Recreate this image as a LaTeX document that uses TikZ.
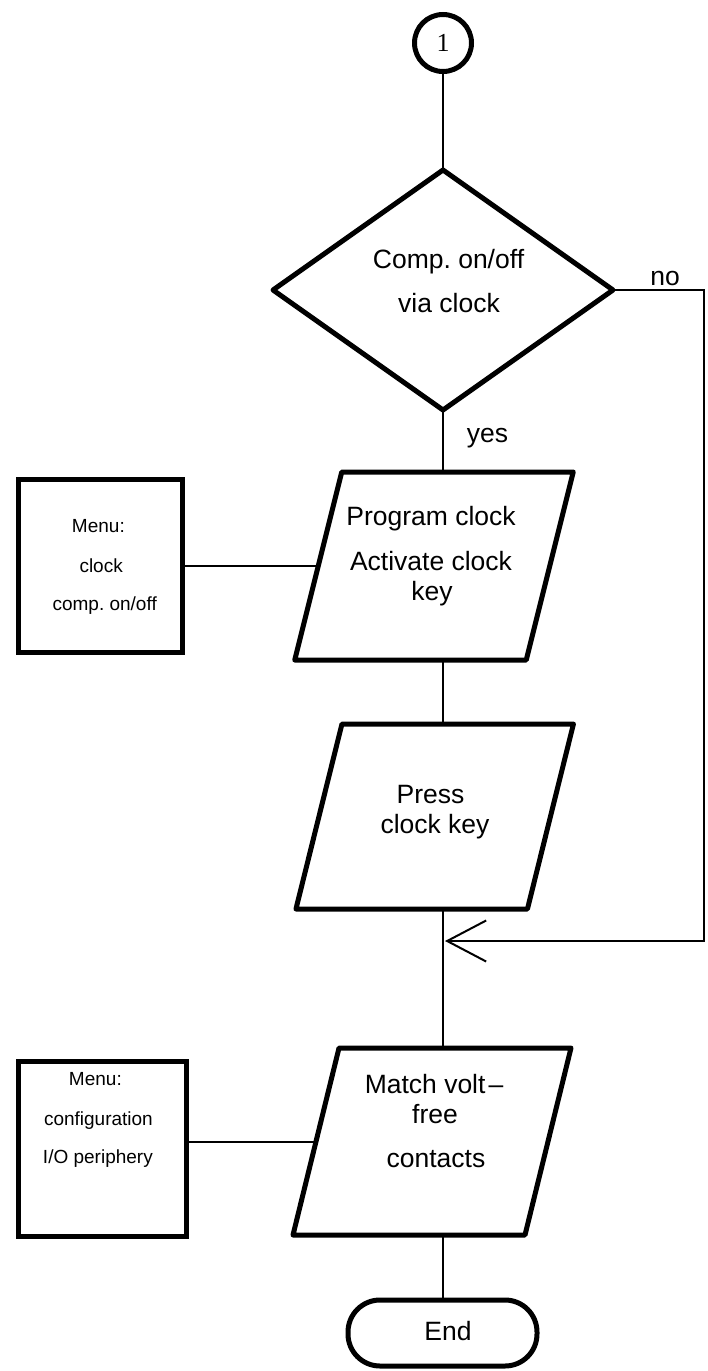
\documentclass[tikz,border=0pt]{standalone}
\usepackage{fontspec}
\setmainfont{Liberation Sans}
\newfontfamily\numfont{Liberation Serif}
\usetikzlibrary{arrows.meta}
\frenchspacing
\begin{document}
\begin{tikzpicture}[x=1pt,y=-1pt,
  outline/.style={line width=5pt, line join=round},
  conn/.style={line width=2pt},
  frame/.style={inner sep=0pt, outer sep=0pt},
  lbl/.style={font=\fontsize{26.5}{30}\selectfont, anchor=base, inner sep=0pt},
  menutxt/.style={font=\fontsize{19}{22}\selectfont, anchor=base east, inner sep=0pt},
  menubox/.style={draw, line width=5pt, inner sep=0pt, outer sep=0pt}
]
\useasboundingbox[fill=white] (0,0) rectangle (707,1371);

% connector column
\coordinate (col) at (443,0);

% start connector
\node[draw, circle, line width=5pt, minimum size=57pt, inner sep=0pt, outer sep=0pt,
      font=\numfont\fontsize{26}{26}\selectfont] (start) at (443,43) {1};

% decision
\node[frame, minimum width=340pt, minimum height=240pt] (dec) at (443,290) {};
\draw[outline] (dec.north) -- (dec.east) -- (dec.south) -- (dec.west) -- cycle;
\node[lbl] (dt1) at (448.5,268) {Comp. on/off};
\node[lbl] (dt2) at (449,312) {via clock};
\node[lbl] (no) at (665,285) {no};
\node[lbl] (yes) at (487.5,442) {yes};

% parallelogram 1
\node[frame, minimum width=231.5pt, minimum height=188pt] (p1) at (434,566) {};
\draw[outline] ([xshift=23.5pt]p1.north west) -- ([xshift=23.5pt]p1.north east)
  -- ([xshift=-23.5pt]p1.south east) -- ([xshift=-23.5pt]p1.south west) -- cycle;
\node[lbl] (p1t1) at (431,525) {Program clock};
\node[lbl] (p1t2) at (431,570) {Activate clock};
\node[lbl] (p1t3) at (432,600) {key};

% menu box 1
\node[menubox, minimum width=164pt, minimum height=173pt] (m1) at (100,566) {};
\node[menutxt] (m1t1) at (125,532) {Menu:};
\node[menutxt] (m1t2) at (123,572) {clock};
\node[menutxt] (m1t3) at (157,610) {comp. on/off};

% parallelogram 3
\node[frame, minimum width=231.5pt, minimum height=185pt] (p3) at (434.7,816.5) {};
\draw[outline] ([xshift=23pt]p3.north west) -- ([xshift=23pt]p3.north east)
  -- ([xshift=-23pt]p3.south east) -- ([xshift=-23pt]p3.south west) -- cycle;
\node[lbl] (p3t1) at (430.5,803) {Press};
\node[lbl] (p3t2) at (435,833) {clock key};

% parallelogram 4
\node[frame, minimum width=232pt, minimum height=187pt] (p4) at (432,1141.5) {};
\draw[outline] ([xshift=23pt]p4.north west) -- ([xshift=23pt]p4.north east)
  -- ([xshift=-23pt]p4.south east) -- ([xshift=-23pt]p4.south west) -- cycle;
\node[lbl] (p4t1) at (434,1093) {Match volt\kern3pt–};
\node[lbl] (p4t2) at (435,1123) {free};
\node[lbl] (p4t3) at (436,1167) {contacts};

% menu box 2
\node[menubox, minimum width=168pt, minimum height=174.5pt] (m2) at (102,1149) {};
\node[menutxt] (m2t1) at (122,1085) {Menu:};
\node[menutxt] (m2t2) at (153,1125) {configuration};
\node[menutxt] (m2t3) at (153,1163) {I/O periphery};

% end terminal
\node[draw, line width=5pt, rounded corners=32pt, minimum width=189pt, minimum height=66pt,
      inner sep=0pt, outer sep=0pt] (endn) at (442.5,1333) {};
\node[lbl] (endt) at (448,1340) {End};

% connectors
\coordinate (nocorner) at (704,290);
\coordinate (merge) at (445,941);
\draw[conn] (start.south) -- (dec.north);
\draw[conn] (dec.south) -- (col |- p1.north);
\draw[conn] (col |- p1.south) -- (col |- p3.north);
\draw[conn] (col |- p3.south) -- (col |- p4.north);
\draw[conn] (col |- p4.south) -- (col |- endn.north);
\draw[conn] (m1.east) -- (p1.west);
\draw[conn] (p4.west) -- (p4.west -| m2.east);
\draw[conn, -{Straight Barb[length=39pt, width=41pt]}] (dec.east) -- (nocorner) |- (merge);
\end{tikzpicture}
\end{document}
